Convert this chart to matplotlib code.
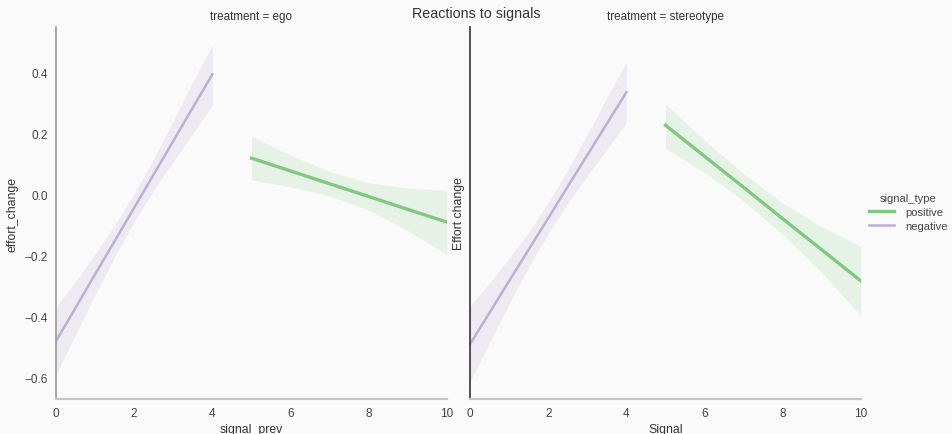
import matplotlib.pyplot as plt

plt.rcParams['font.family'] = ['Liberation Sans', 'DejaVu Sans']

GREEN = '#7fc97f'
PURPLE = '#beaed4'

# fitted regression lines with their 95% bands, per treatment
neg_x = [0, 0.5, 1, 1.5, 2, 2.5, 3, 3.5, 4]
pos_x = [5, 6, 7, 8, 9, 10]

ego_neg_fit = [-0.482, -0.373, -0.263, -0.154, -0.045, 0.065, 0.174, 0.284, 0.393]
ego_neg_lo = [-0.590, -0.460, -0.330, -0.206, -0.091, 0.013, 0.107, 0.199, 0.291]
ego_neg_hi = [-0.370, -0.286, -0.196, -0.102, 0.001, 0.117, 0.241, 0.369, 0.489]

ego_pos_fit = [0.118, 0.076, 0.034, -0.008, -0.050, -0.092]
ego_pos_lo = [0.046, 0.024, -0.006, -0.053, -0.120, -0.199]
ego_pos_hi = [0.190, 0.128, 0.074, 0.037, 0.020, 0.012]

ster_neg_fit = [-0.492, -0.389, -0.285, -0.182, -0.079, 0.025, 0.128, 0.231, 0.334]
ster_neg_lo = [-0.616, -0.487, -0.360, -0.239, -0.129, -0.030, 0.060, 0.146, 0.236]
ster_neg_hi = [-0.368, -0.291, -0.210, -0.125, -0.029, 0.080, 0.196, 0.316, 0.434]

ster_pos_fit = [0.226, 0.124, 0.022, -0.081, -0.183, -0.285]
ster_pos_lo = [0.150, 0.071, -0.023, -0.133, -0.258, -0.400]
ster_pos_hi = [0.296, 0.177, 0.067, -0.029, -0.108, -0.172]

panels = [
    ('treatment = ego', 'signal_prev', 'effort_change',
     (ego_pos_fit, ego_pos_lo, ego_pos_hi), (ego_neg_fit, ego_neg_lo, ego_neg_hi)),
    ('treatment = stereotype', 'Signal', 'Effort change',
     (ster_pos_fit, ster_pos_lo, ster_pos_hi), (ster_neg_fit, ster_neg_lo, ster_neg_hi)),
]

BG = '#fafafa'
fig = plt.figure(figsize=(9.52, 4.35), dpi=100, facecolor=BG)
lefts = [0.0588, 0.4937]
spine_cols = ['#999999', '#333333']
ylab_pads = [4, -2.5]

handles = []
for i, (title, xlab, ylab, pos, neg) in enumerate(panels):
    ax = fig.add_axes([lefts[i], 0.0805, 0.4107, 0.855], facecolor=BG)
    ax.fill_between(pos_x, pos[1], pos[2], color=GREEN, alpha=0.15, lw=0)
    ax.fill_between(neg_x, neg[1], neg[2], color=PURPLE, alpha=0.2, lw=0)
    lp, = ax.plot(pos_x, pos[0], color=GREEN, lw=2.4)
    ln, = ax.plot(neg_x, neg[0], color=PURPLE, lw=1.8)
    handles = [lp, ln]

    ax.set_xlim(0, 10)
    ax.set_ylim(-0.672, 0.548)
    ax.set_xticks([0, 2, 4, 6, 8, 10])
    ax.set_yticks([-0.6, -0.4, -0.2, 0.0, 0.2, 0.4])
    if i == 1:
        ax.set_yticklabels([])
    ax.tick_params(length=0, labelsize=8.5, colors='#444444', pad=6)
    for s in ('top', 'right'):
        ax.spines[s].set_visible(False)
    ax.spines['left'].set_color(spine_cols[i])
    ax.spines['left'].set_linewidth(1.2)
    ax.spines['bottom'].set_color('#c4c4c4')
    ax.spines['bottom'].set_linewidth(1.6)
    ax.set_title(title, fontsize=8.4, color='#333333', pad=6)
    ax.set_xlabel(xlab, fontsize=8.8, color='#333333', labelpad=3)
    ax.set_ylabel(ylab, fontsize=8.8, color='#333333', labelpad=ylab_pads[i])

fig.suptitle('Reactions to signals', fontsize=10.3, color='#333333', y=0.985)
leg = fig.legend(handles, ['positive', 'negative'], title='signal_type',
                 loc='center left', bbox_to_anchor=(0.902, 0.51), frameon=False,
                 fontsize=8, title_fontsize=8, handlelength=2.25,
                 labelspacing=0.35, handletextpad=1.0)
for t in leg.get_texts():
    t.set_color('#444444')
leg.get_title().set_color('#444444')

fig.savefig('out.png', dpi=100, facecolor=BG)
